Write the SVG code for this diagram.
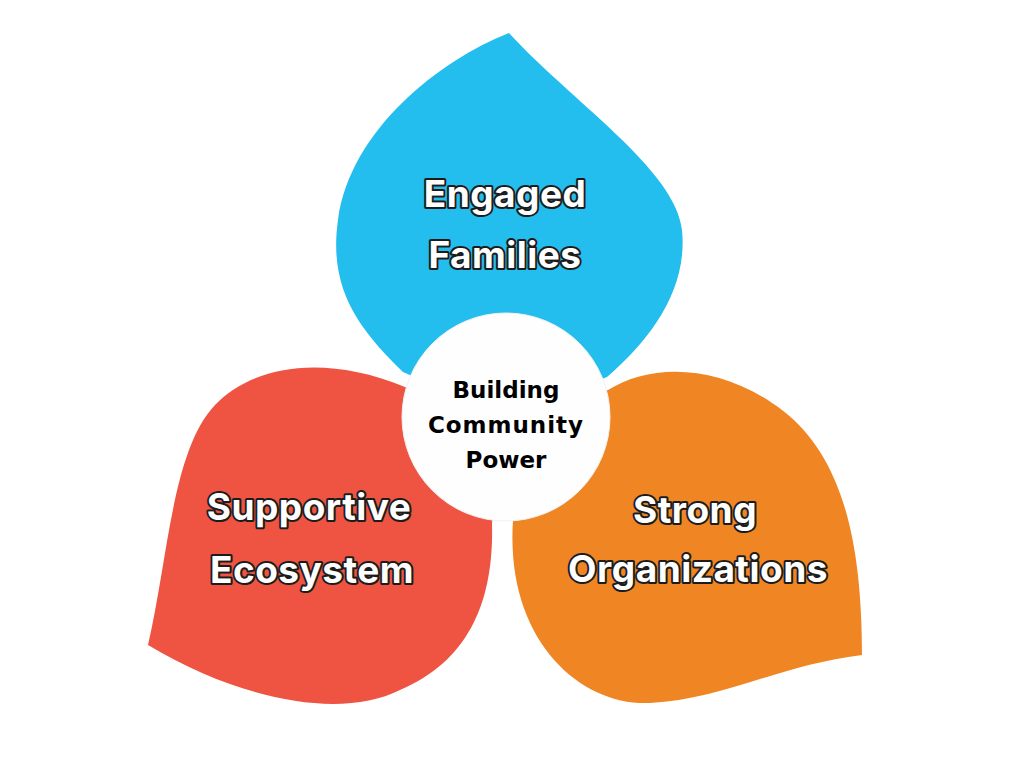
<svg xmlns="http://www.w3.org/2000/svg" width="1024" height="768" viewBox="0 0 1024 768">
<style>
.lbl{font-family:Inter,"Liberation Sans",sans-serif;font-weight:700;font-size:37px;letter-spacing:0.5px;fill:#ffffff;stroke:#1c1c1c;stroke-width:4;stroke-linejoin:round;paint-order:stroke;text-anchor:middle}
.ctr{font-family:"DejaVu Sans","Liberation Sans",sans-serif;font-weight:700;font-size:23px;fill:#000000;text-anchor:middle}
</style>
<rect width="1024" height="768" fill="#ffffff"/>
<g id="engaged-families">
<path d="M509,33 C440,60 350,130 338,220 C328,290 360,330 403,372 L506,417 L607,377 C650,340 688,290 682,230 C676,170 570,100 509,33 Z" fill="#23BEEE"/>
<text class="lbl" x="505" y="207">Engaged</text>
<text class="lbl" x="505" y="268">Families</text>
</g>
<g id="supportive-ecosystem">
<path d="M148,645 C168,560 172,450 215,405 C250,368 320,352 405,387 L506,417 L492,523 C494,600 470,660 400,690 C340,720 240,700 148,645 Z" fill="#EE5441"/>
<text class="lbl" x="309" y="520">Supportive</text>
<text class="lbl" x="312" y="583">Ecosystem</text>
</g>
<g id="strong-organizations">
<path d="M608,390 C652,362 722,364 782,410 C842,456 862,540 862,655 C780,665 720,700 650,703 C580,706 505,640 513,520 L506,417 Z" fill="#F08524"/>
<text class="lbl" x="695" y="523">Strong</text>
<text class="lbl" x="698" y="582">Organizations</text>
</g>
<g id="center">
<circle cx="506" cy="417" r="104" fill="#fefefe" stroke="#f2f2f2" stroke-width="1"/>
<text class="ctr" x="506" y="398">Building</text>
<text class="ctr" x="506" y="433" letter-spacing="1">Community</text>
<text class="ctr" x="506" y="468">Power</text>
</g>
<g id="connectors"/>
</svg>
